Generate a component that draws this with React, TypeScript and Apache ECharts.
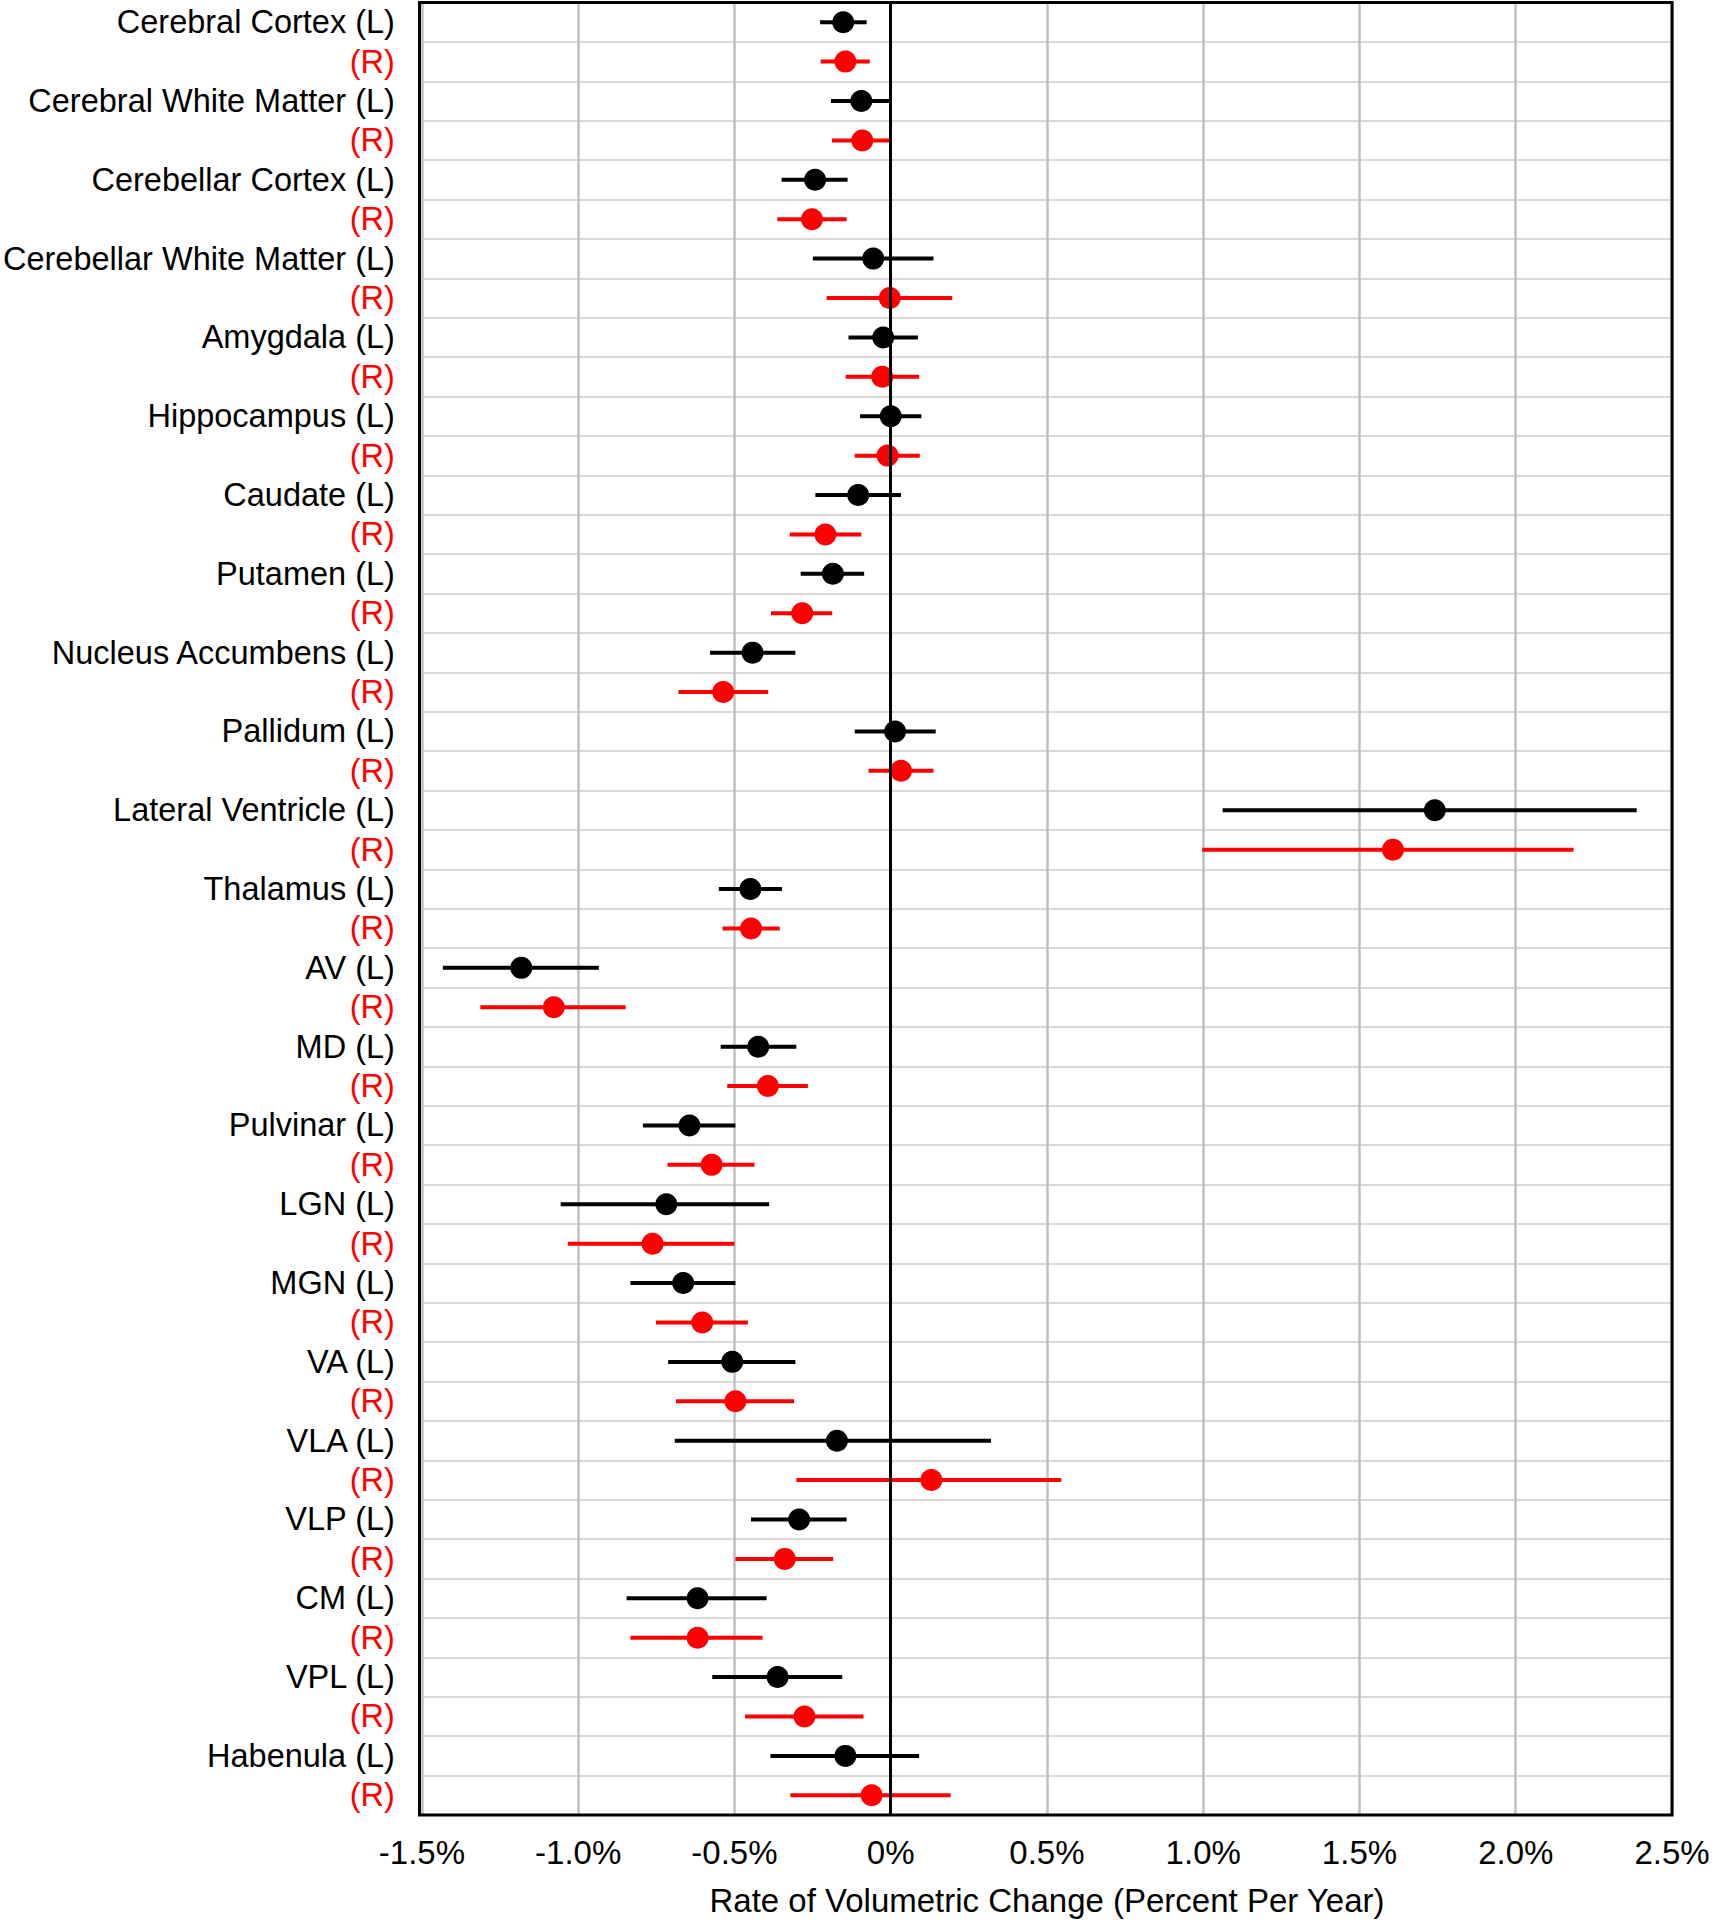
import React, { useEffect, useRef } from "react";
import * as echarts from "echarts";

const regions = [
  "Cerebral Cortex", "Cerebral White Matter", "Cerebellar Cortex", "Cerebellar White Matter",
  "Amygdala", "Hippocampus", "Caudate", "Putamen", "Nucleus Accumbens", "Pallidum",
  "Lateral Ventricle", "Thalamus", "AV", "MD", "Pulvinar", "LGN", "MGN", "VA", "VLA",
  "VLP", "CM", "VPL", "Habenula",
];

const leftMean = [-0.152, -0.094, -0.242, -0.056, -0.024, 0.0, -0.104, -0.185, -0.442, 0.014, 1.741, -0.449, -1.182, -0.424, -0.644, -0.718, -0.664, -0.507, -0.172, -0.293, -0.618, -0.362, -0.145];
const leftLow = [-0.226, -0.191, -0.349, -0.249, -0.135, -0.098, -0.241, -0.288, -0.578, -0.115, 1.062, -0.550, -1.433, -0.544, -0.793, -1.056, -0.833, -0.712, -0.691, -0.447, -0.845, -0.571, -0.385];
const leftHigh = [-0.077, -0.003, -0.138, 0.137, 0.087, 0.098, 0.033, -0.085, -0.305, 0.144, 2.387, -0.348, -0.934, -0.302, -0.497, -0.389, -0.497, -0.305, 0.321, -0.141, -0.397, -0.155, 0.091];

const rightMean = [-0.145, -0.091, -0.252, -0.003, -0.027, -0.010, -0.209, -0.283, -0.536, 0.033, 1.607, -0.447, -1.078, -0.393, -0.573, -0.762, -0.603, -0.497, 0.130, -0.339, -0.618, -0.276, -0.061];
const rightLow = [-0.224, -0.188, -0.363, -0.205, -0.144, -0.115, -0.323, -0.383, -0.679, -0.071, 0.997, -0.538, -1.313, -0.523, -0.714, -1.033, -0.751, -0.687, -0.302, -0.497, -0.833, -0.466, -0.321];
const rightHigh = [-0.067, 0.004, -0.141, 0.197, 0.091, 0.093, -0.094, -0.187, -0.392, 0.137, 2.185, -0.355, -0.848, -0.265, -0.436, -0.500, -0.457, -0.309, 0.546, -0.184, -0.410, -0.087, 0.192];

const xTicks = [-1.5, -1.0, -0.5, 0, 0.5, 1.0, 1.5, 2.0, 2.5];
const xAxisTitle = "Rate of Volumetric Change (Percent Per Year)";

const FONT = "'Liberation Sans', Arial, Helvetica, sans-serif";
const BLACK = "#000000";
const RED = "#ff0000";

const GRID_LEFT = 419.5;
const GRID_TOP = 2.5;
const GRID_W = 1252.5;
const GRID_H = 1812.5;

export default function App() {
  const ref = useRef<HTMLDivElement>(null);

  useEffect(() => {
    if (!ref.current) return;
    const chart = echarts.init(ref.current, null, { renderer: "svg" });

    const categories: string[] = [];
    regions.forEach((r) => {
      categories.push(r + " (L)");
      categories.push("(R)");
    });

    const leftBars = regions.map((_, i) => [leftLow[i], leftHigh[i], i * 2]);
    const rightBars = regions.map((_, i) => [rightLow[i], rightHigh[i], i * 2 + 1]);
    const leftPts = regions.map((_, i) => [leftMean[i], i * 2]);
    const rightPts = regions.map((_, i) => [rightMean[i], i * 2 + 1]);

    const barRender = (color: string) => (params: any, api: any) => {
      const lo = api.value(0);
      const hi = api.value(1);
      const row = api.value(2);
      const p1 = api.coord([lo, row]);
      const p2 = api.coord([hi, row]);
      return {
        type: "line",
        shape: { x1: p1[0], y1: p1[1], x2: p2[0], y2: p2[1] },
        style: { stroke: color, lineWidth: 4 },
      };
    };

    chart.setOption({
      animation: false,
      backgroundColor: "#ffffff",
      grid: {
        left: GRID_LEFT,
        top: GRID_TOP,
        width: GRID_W,
        height: GRID_H,
        show: false,
        containLabel: false,
      },
      graphic: [
        {
          type: "rect",
          z: 100,
          silent: true,
          shape: { x: GRID_LEFT, y: GRID_TOP, width: GRID_W, height: GRID_H },
          style: { fill: "none", stroke: BLACK, lineWidth: 3 },
        },
      ],
      xAxis: {
        type: "value",
        min: -1.5,
        max: 2.5,
        interval: 0.5,
        axisLine: { show: false },
        axisTick: { show: false },
        axisLabel: {
          fontSize: 33,
          fontFamily: FONT,
          color: BLACK,
          margin: 21,
          formatter: (v: number) => {
            const t = xTicks.find((x) => Math.abs(x - v) < 1e-9);
            const val = t === undefined ? v : t;
            return val === 0 ? "0%" : val.toFixed(1) + "%";
          },
        },
        splitLine: { show: true, lineStyle: { color: "#c0c0c0", width: 2.5 } },
        name: xAxisTitle,
        nameLocation: "middle",
        nameGap: 69,
        nameTextStyle: { fontSize: 33, fontFamily: FONT, color: BLACK },
      },
      yAxis: {
        type: "category",
        data: categories,
        inverse: true,
        boundaryGap: true,
        axisLine: { show: false },
        axisTick: { show: false },
        axisLabel: {
          interval: 0,
          fontSize: 32.5,
          fontFamily: FONT,
          margin: 27,
          color: (_v: any, idx: number) => (idx % 2 === 0 ? BLACK : RED),
        },
        splitLine: { show: true, interval: 0, lineStyle: { color: "#d9d9d9", width: 2 } },
      },
      series: [
        {
          type: "scatter",
          name: "zero",
          data: [],
          z: 1,
          silent: true,
          markLine: {
            silent: true,
            symbol: ["none", "none"],
            label: { show: false },
            lineStyle: { color: BLACK, width: 3, type: "solid" },
            data: [{ xAxis: 0 }],
          },
        },
        {
          type: "custom",
          name: "L bars",
          renderItem: barRender(BLACK),
          encode: { x: [0, 1], y: 2 },
          data: leftBars,
          z: 3,
        },
        {
          type: "custom",
          name: "R bars",
          renderItem: barRender(RED),
          encode: { x: [0, 1], y: 2 },
          data: rightBars,
          z: 3,
        },
        {
          type: "scatter",
          name: "L",
          data: leftPts,
          symbol: "circle",
          symbolSize: 22,
          itemStyle: { color: BLACK, opacity: 1 },
          z: 4,
        },
        {
          type: "scatter",
          name: "R",
          data: rightPts,
          symbol: "circle",
          symbolSize: 22,
          itemStyle: { color: RED, opacity: 1 },
          z: 4,
        },
      ],
    });

    return () => chart.dispose();
  }, []);

  return (
    <div
      ref={ref}
      style={{ position: "absolute", left: 0, top: 0, width: 1723, height: 1922, background: "#fff" }}
    />
  );
}
